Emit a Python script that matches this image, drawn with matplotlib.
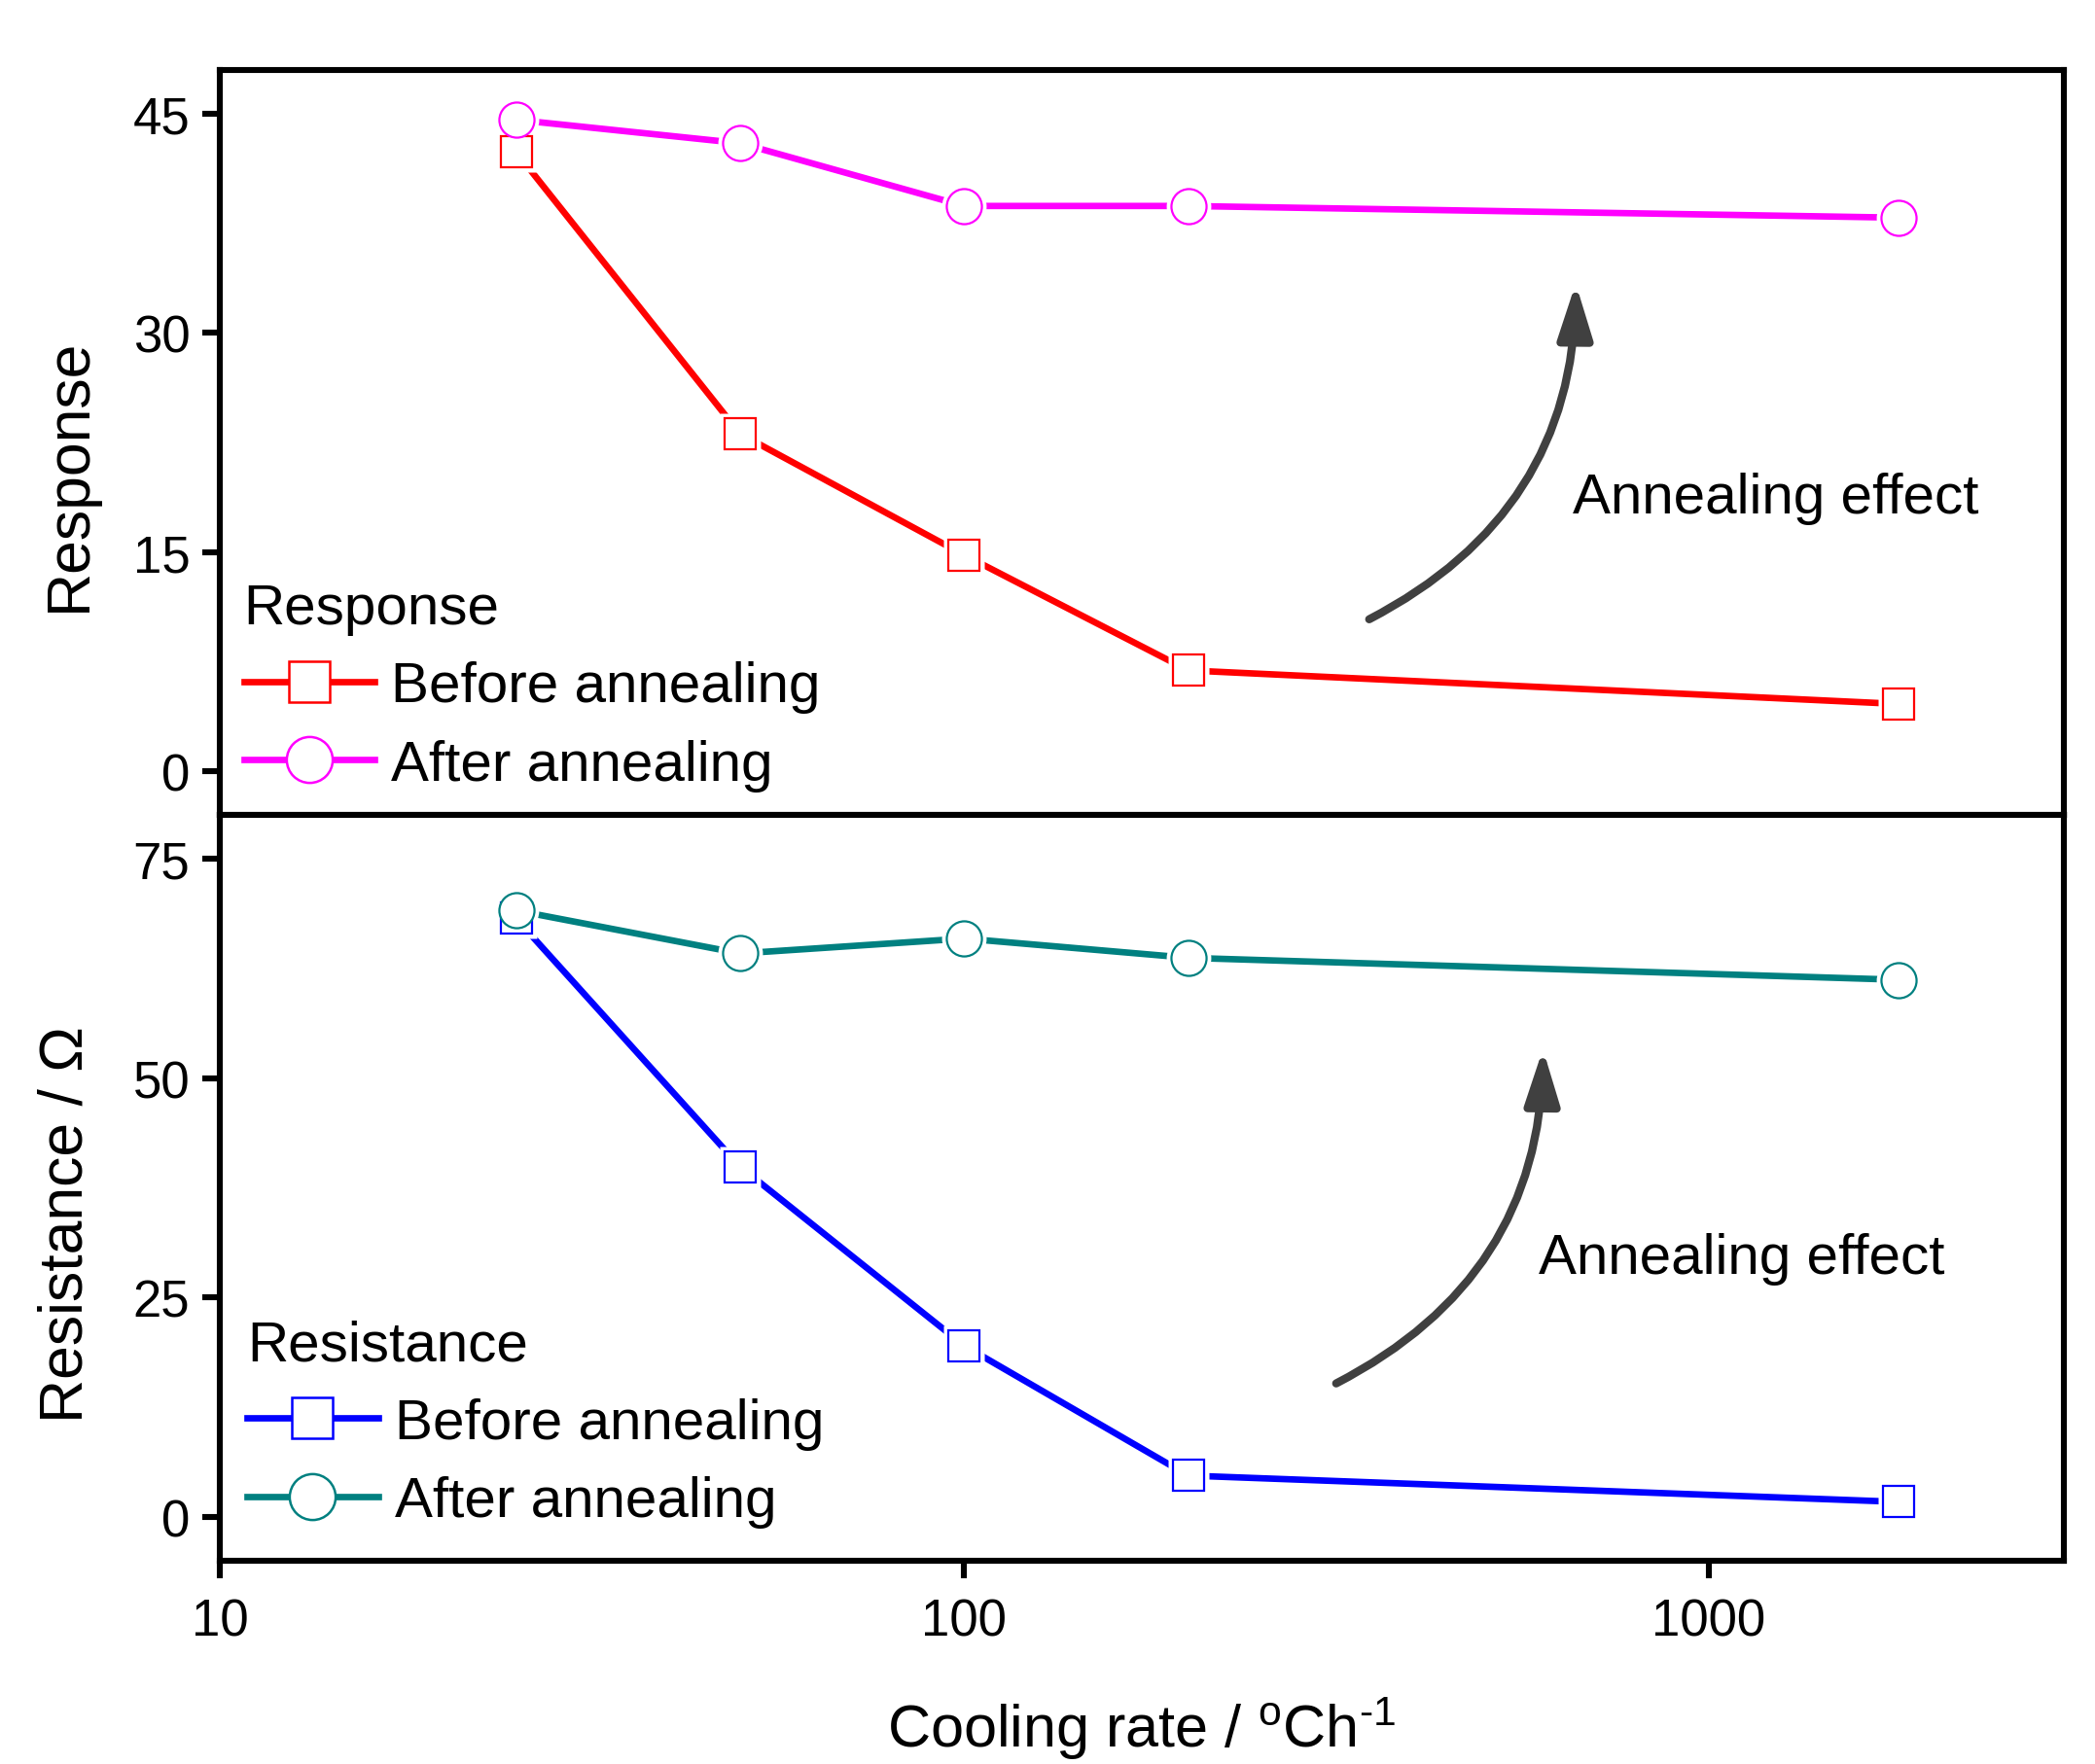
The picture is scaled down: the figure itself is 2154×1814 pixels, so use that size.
import numpy as np
import matplotlib.pyplot as plt
from matplotlib.patches import FancyArrowPatch
from matplotlib.lines import Line2D

plt.rcParams['font.family'] = ['Liberation Sans', 'DejaVu Sans']
plt.rcParams['mathtext.fontset'] = 'custom'
plt.rcParams['mathtext.rm'] = 'Liberation Sans'
plt.rcParams['mathtext.it'] = 'Liberation Sans:italic'

# Data
cooling_rate = [25, 50, 100, 200, 1800]
response_before = [42.4, 23.1, 14.8, 6.9, 4.6]
response_after = [44.6, 43.0, 38.7, 38.7, 37.9]
resist_before = [68.2, 39.9, 19.5, 4.7, 1.7]
resist_after = [69.1, 64.2, 65.9, 63.7, 61.2]

x_ticks = [10, 100, 1000]
x_tick_labels = ['10', '100', '1000']
top_yticks = [0, 15, 30, 45]
bot_yticks = [0, 25, 50, 75]

RED, MAGENTA, BLUE, TEAL = '#ff0000', '#ff00ff', '#0000ff', '#008080'
ARROW = '#404040'

fig = plt.figure(figsize=(10.77, 9.075), dpi=200)
ax1 = fig.add_axes([0.1049, 0.5377, 0.8802, 0.4220])
ax2 = fig.add_axes([0.1049, 0.1152, 0.8802, 0.4226])

LW = 2.4
SPINE_W = 2.2


def draw_series(ax, x, y, color, marker, ms):
    # line, then white halo to leave a gap, then the open marker
    ax.plot(x, y, color=color, lw=LW, zorder=2, solid_capstyle='round')
    ax.plot(x, y, ls='none', marker=marker, ms=ms + 3.5, mfc='white',
            mec='none', zorder=3)
    ax.plot(x, y, ls='none', marker=marker, ms=ms, mfc='white',
            mec=color, mew=0.8, zorder=4)


def handle(color, marker, ms):
    return Line2D([], [], color=color, lw=LW, marker=marker, ms=ms,
                  mfc='white', mec=color, mew=0.9)


draw_series(ax1, cooling_rate, response_before, RED, 's', 11.5)
draw_series(ax1, cooling_rate, response_after, MAGENTA, 'o', 13)
draw_series(ax2, cooling_rate, resist_before, BLUE, 's', 11.5)
draw_series(ax2, cooling_rate, resist_after, TEAL, 'o', 13)

for ax in (ax1, ax2):
    ax.set_xscale('log')
    ax.set_xlim(10, 3000)
    ax.set_xticks(x_ticks)
    ax.minorticks_off()
    for s in ax.spines.values():
        s.set_linewidth(SPINE_W)
    ax.tick_params(axis='both', direction='out', length=6.5, width=SPINE_W,
                   labelsize=19, pad=4.5)

ax1.set_ylim(-3, 48)
ax1.set_yticks(top_yticks)
ax1.tick_params(axis='x', bottom=False, labelbottom=False)
ax2.set_ylim(-5, 80)
ax2.set_yticks(bot_yticks)
ax2.set_xticklabels(x_tick_labels)
ax2.tick_params(axis='x', pad=7)

ax1.set_ylabel('Response', fontsize=22.5)
ax1.yaxis.set_label_coords(-0.066, 0.458)
ax2.set_ylabel('Resistance / \u03a9', fontsize=22.5)
ax2.yaxis.set_label_coords(-0.068, 0.452)
ax2.set_xlabel('Cooling rate / $^{\\mathrm{o}}$Ch$^{\\text{-1}}$',
               fontsize=22, labelpad=18)

# legends
leg_kw = dict(loc='lower left', frameon=False, fontsize=21, title_fontsize=21,
              handlelength=2.3, handletextpad=0.3, labelspacing=0.45,
              borderpad=0, borderaxespad=0, alignment='left')
leg1 = ax1.legend([handle(RED, 's', 15), handle(MAGENTA, 'o', 17)],
                  ['Before annealing', 'After annealing'], title='Response',
                  bbox_to_anchor=(0.013, 0.032), **leg_kw)
leg2 = ax2.legend([handle(BLUE, 's', 15), handle(TEAL, 'o', 17)],
                  ['Before annealing', 'After annealing'], title='Resistance',
                  bbox_to_anchor=(0.015, 0.044), **leg_kw)

# curved arrows + labels
arrow_kw = dict(connectionstyle='arc3,rad=0.3',
                arrowstyle='-|>,head_length=0.85,head_width=0.27',
                mutation_scale=20, color=ARROW, lw=3.0, capstyle='round',
                shrinkA=0, shrinkB=0, zorder=5)
ax1.add_patch(FancyArrowPatch((350, 10.4), (663, 33.4), **arrow_kw))
ax2.add_patch(FancyArrowPatch((316, 15.2), (599, 53.3), **arrow_kw))
ax1.text(656, 18.7, 'Annealing effect', fontsize=21, ha='left', va='center')
ax2.text(592, 29.4, 'Annealing effect', fontsize=21, ha='left', va='center')

fig.savefig('out.png', dpi=200, facecolor='white')
